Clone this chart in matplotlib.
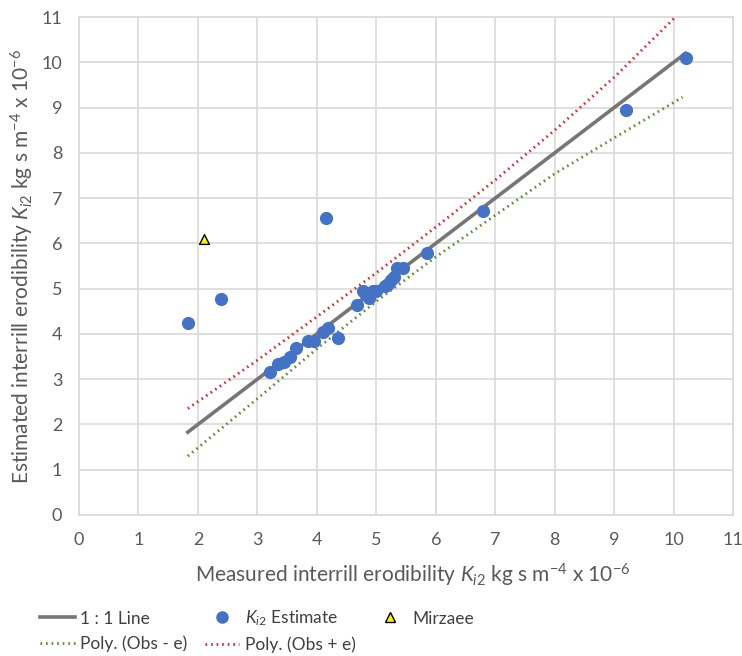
import matplotlib.pyplot as plt
from matplotlib.lines import Line2D

plt.rcParams['font.family'] = ['Lato', 'DejaVu Sans']
plt.rcParams['mathtext.fontset'] = 'custom'
plt.rcParams['mathtext.rm'] = 'Lato'
plt.rcParams['mathtext.it'] = 'Lato:italic'

# measured vs estimated Ki2
measured = [1.83, 2.38, 4.15, 3.22, 3.35, 3.45, 3.55, 3.65, 3.85, 3.95, 4.10,
            4.18, 4.35, 4.68, 4.78, 4.82, 4.88, 4.95, 5.00, 5.15, 5.20, 5.25,
            5.30, 5.35, 5.45, 5.85, 6.80, 9.20, 10.20]
estimated = [4.25, 4.78, 6.55, 3.15, 3.33, 3.38, 3.50, 3.68, 3.85, 3.85, 4.05,
             4.12, 3.92, 4.63, 4.95, 4.85, 4.80, 4.95, 4.95, 5.05, 5.10, 5.20,
             5.25, 5.45, 5.45, 5.78, 6.72, 8.95, 10.10]

mirzaee_x = [2.10]
mirzaee_y = [6.10]

one_line = [1.83, 10.20]

# polynomial trend lines
plus_x = [1.83, 3, 4, 5, 6, 7, 8, 9, 10.03]
plus_y = [2.35, 3.42, 4.38, 5.35, 6.36, 7.40, 8.50, 9.67, 11.0]
minus_x = [1.83, 3, 4, 5, 6, 7, 8, 9, 10.15]
minus_y = [1.30, 2.57, 3.67, 4.72, 5.70, 6.62, 7.54, 8.33, 9.23]

ticks = list(range(0, 12))

grey_txt = '#595959'
dots = (0, (0.6, 1.4))

fig = plt.figure(figsize=(7.42, 6.56), dpi=100)
ax = fig.add_axes([0.1065, 0.215, 0.8815, 0.759])

ax.plot(one_line, one_line, color='#767676', lw=2.6, zorder=3)
ax.plot(minus_x, minus_y, color='#5B8C32', lw=2, ls=dots, zorder=3)
ax.plot(plus_x, plus_y, color='#D42A2A', lw=2, ls=dots, zorder=3)
ax.scatter(measured, estimated, s=72, color='#4472C4', zorder=4)
ax.scatter(mirzaee_x, mirzaee_y, s=50, marker='^', color='#FFF200',
           edgecolors='black', linewidths=1, zorder=4)

ax.set_xlim(0, 11)
ax.set_ylim(0, 11)
ax.set_xticks(ticks)
ax.set_yticks(ticks)
ax.grid(color='#D9D9D9', lw=1.2)
ax.set_axisbelow(True)
for s in ax.spines.values():
    s.set_color('#D9D9D9')
    s.set_linewidth(1.2)
ax.tick_params(length=0, labelsize=13, labelcolor=grey_txt, pad=12)

ax.set_xlabel('Measured interrill erodibility $K_{i2}$ kg s m$^{-4}$ x 10$^{-6}$',
              fontsize=15, color=grey_txt, labelpad=9)
ax.set_ylabel('Estimated interrill erodibility $K_{i2}$ kg s m$^{-4}$ x 10$^{-6}$',
              fontsize=15, color=grey_txt, labelpad=4)
ax.xaxis.set_label_coords(0.51, -0.095)

handles = [
    Line2D([], [], color='#767676', lw=2.6),
    Line2D([], [], color='#5B8C32', lw=2, ls=dots),
    Line2D([], [], color='#4472C4', marker='o', ls='none', ms=8),
    Line2D([], [], color='#D42A2A', lw=2, ls=dots),
    Line2D([], [], color='#FFF200', marker='^', ls='none', ms=7,
           markeredgecolor='black'),
]
labels = ['1 : 1 Line', 'Poly. (Obs - e)', '$K_{i2}$ Estimate',
          'Poly. (Obs + e)', 'Mirzaee']
fig.legend(handles, labels, ncol=3, loc='lower left',
           bbox_to_anchor=(0.033, -0.02), frameon=False, fontsize=12.5,
           labelcolor='#404040', handlelength=2.0, handletextpad=0.3,
           columnspacing=1.0, labelspacing=0.5)

fig.savefig('out.png')
